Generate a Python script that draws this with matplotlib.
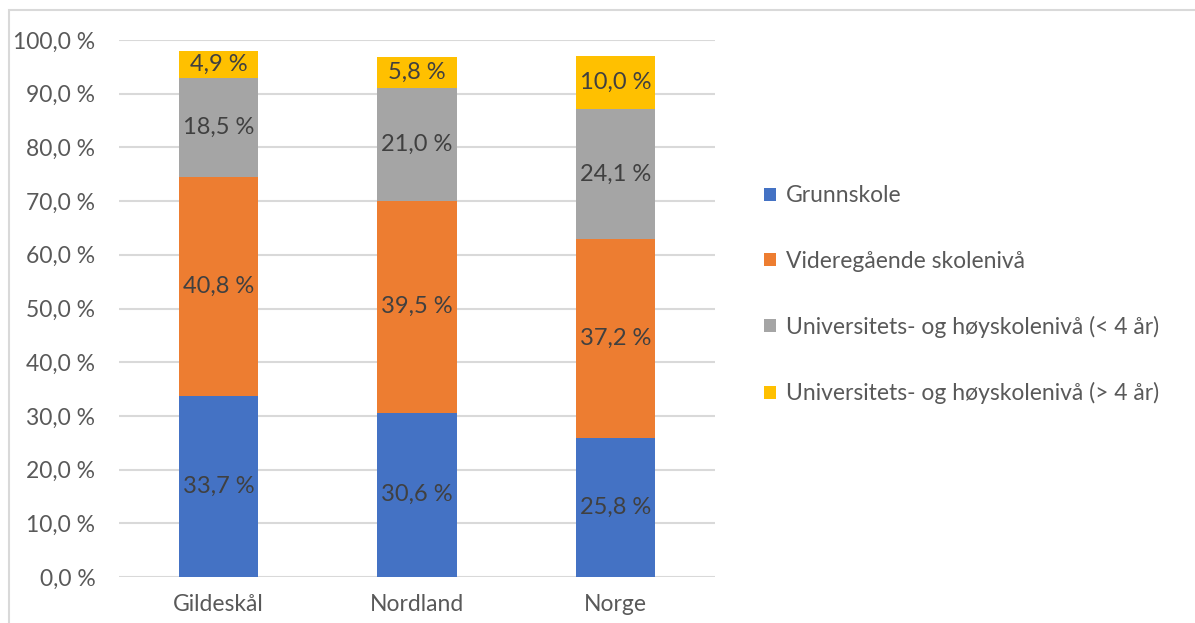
import matplotlib
matplotlib.use("Agg")
import matplotlib.pyplot as plt
from matplotlib.patches import Rectangle

categories = ["Gildeskål", "Nordland", "Norge"]
series_names = ["Grunnskole", "Videregående skolenivå",
                "Universitets- og høyskolenivå (< 4 år)",
                "Universitets- og høyskolenivå (> 4 år)"]
grunnskole = [33.7, 30.6, 25.8]
videregaende = [40.8, 39.5, 37.2]
uni_kort = [18.5, 21.0, 24.1]
uni_lang = [4.9, 5.8, 10.0]
colors = ["#4472C4", "#ED7D31", "#A5A5A5", "#FFC000"]
yticks = list(range(0, 101, 10))

plt.rcParams['font.family'] = ['Lato', 'DejaVu Sans']

fig = plt.figure(figsize=(11.95, 6.23), dpi=100)
ax = fig.add_axes([119/1195, 1-577/623, (715-119)/1195, (577-40)/623])

# figure border
fig.patches.append(Rectangle((9/1195, -0.1), 1.2, 1-10/623+0.1, transform=fig.transFigure,
                             fill=False, edgecolor="#D9D9D9", linewidth=1.5))

x = list(range(len(categories)))
bottom = [0, 0, 0]
for vals, name, col in zip([grunnskole, videregaende, uni_kort, uni_lang], series_names, colors):
    ax.bar(x, vals, width=0.4, bottom=bottom, color=col, label=name, zorder=3)
    for xi, b, v in zip(x, bottom, vals):
        ax.text(xi, b + v/2, f"{v:.1f} %".replace(".", ","), ha="center", va="center",
                fontsize=17, color="#404040", zorder=4)
    bottom = [b + v for b, v in zip(bottom, vals)]

ax.set_xlim(-0.5, 2.5)
ax.set_ylim(0, 100)
ax.set_yticks(yticks)
ax.set_yticklabels([f"{t:.1f} %".replace(".", ",") for t in yticks])
ax.set_xticks(x)
ax.set_xticklabels(categories)
ax.tick_params(axis="both", length=0, labelsize=16.5, colors="#595959")
ax.tick_params(axis="x", pad=12)
ax.tick_params(axis="y", pad=17)
ax.grid(axis="y", color="#D9D9D9", linewidth=1.5, zorder=0)
for s in ax.spines.values():
    s.set_visible(False)

fig.legend(loc="upper left", bbox_to_anchor=(753/1195, 1-174/623), frameon=False,
           fontsize=16.5, labelcolor="#595959", handlelength=0.5, handleheight=0.5,
           handletextpad=0.45, labelspacing=1.93, borderpad=0)

fig.savefig("out.png", dpi=100)
